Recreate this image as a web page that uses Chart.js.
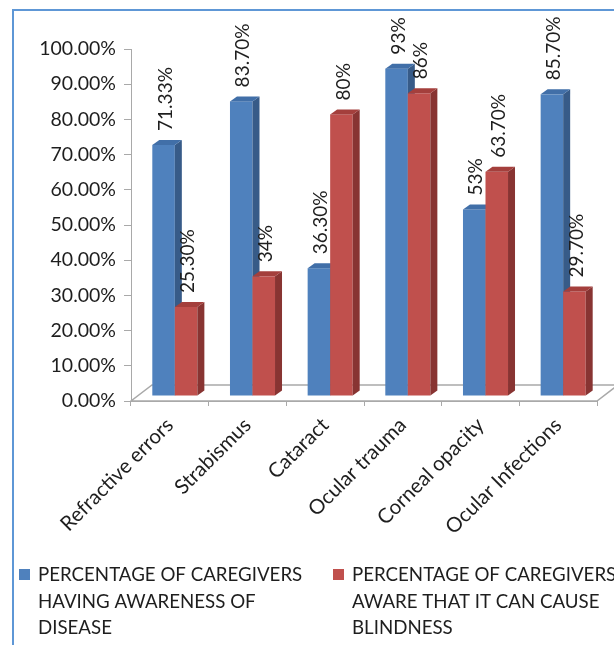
<!DOCTYPE html>
<html><head><meta charset="utf-8">
<script src="https://cdn.jsdelivr.net/npm/chart.js@4.4.1/dist/chart.umd.min.js"></script>
<style>
html,body{margin:0;padding:0;background:#fff;overflow:hidden}
#wrap{position:relative;width:614px;height:645px}
#frame{position:absolute;left:12px;top:9px;width:700px;height:700px;border:2px solid #5e97d6;box-sizing:border-box}
canvas{position:absolute;left:0;top:0}
</style></head>
<body><div id="wrap"><div id="frame"></div><canvas id="c" width="614" height="645"></canvas></div>
<script>
const categories = ['Refractive errors','Strabismus','Cataract','Ocular trauma','Corneal opacity','Ocular Infections'];
const awareness = [71.33, 83.7, 36.3, 93, 53, 85.7];
const blindness = [25.3, 34, 80, 86, 63.7, 29.7];
const awarenessLabels = ['71.33%','83.70%','36.30%','93%','53%','85.70%'];
const blindnessLabels = ['25.30%','34%','80%','86%','63.70%','29.70%'];
const awarenessName = ['PERCENTAGE OF CAREGIVERS','HAVING AWARENESS OF','DISEASE'];
const blindnessName = ['PERCENTAGE OF CAREGIVERS','AWARE THAT IT CAN CAUSE','BLINDNESS'];

const FONT = 'Lato';
const TXT = '#1e1e1e';

const bar3d = {
  id: 'bar3d',
  beforeDatasetsDraw(chart, args, o) {
    const ctx = chart.ctx, ca = chart.chartArea;
    ctx.save();
    // floor
    ctx.beginPath();
    ctx.moveTo(ca.left, ca.bottom);
    ctx.lineTo(ca.right, ca.bottom);
    ctx.lineTo(ca.right + o.floorDx, ca.bottom - o.floorDy);
    ctx.lineTo(ca.left + o.floorDx, ca.bottom - o.floorDy);
    ctx.closePath();
    ctx.fillStyle = '#ffffff';
    ctx.fill();
    ctx.strokeStyle = '#a9a9a9';
    ctx.lineWidth = 1.5;
    ctx.stroke();
    const ds = chart.data.datasets;
    const n = chart.data.labels.length;
    const boxes = [];
    for (let j = 0; j < n; j++) {
      for (let i = 0; i < ds.length; i++) {
        const el = chart.getDatasetMeta(i).data[j];
        const p = el.getProps(['x','y','base','width'], true);
        const l = p.x - p.width / 2 + o.shiftX, r = l + p.width;
        const t = p.y - o.shiftY, b = p.base - o.shiftY;
        const dx = o.depthX, dy = o.depthY;
        ctx.fillStyle = ds[i].backgroundColor;
        ctx.fillRect(l, t, r - l, b - t);
        ctx.fillStyle = ds[i].sideColor;
        ctx.beginPath();
        ctx.moveTo(r, t); ctx.lineTo(r + dx, t - dy); ctx.lineTo(r + dx, b - dy); ctx.lineTo(r, b);
        ctx.closePath(); ctx.fill();
        ctx.fillStyle = ds[i].topColor;
        ctx.beginPath();
        ctx.moveTo(l, t); ctx.lineTo(l + dx, t - dy); ctx.lineTo(r + dx, t - dy); ctx.lineTo(r, t);
        ctx.closePath(); ctx.fill();
        boxes.push({x: (l + r) / 2, t, text: ds[i].valueLabels[j]});
      }
    }
    ctx.fillStyle = TXT;
    ctx.font = o.labelFont;
    ctx.textAlign = 'left';
    ctx.textBaseline = 'middle';
    for (const bx of boxes) {
      ctx.save();
      ctx.translate(bx.x + o.labelDx, bx.t - o.labelGap);
      ctx.rotate(-Math.PI / 2);
      ctx.fillText(bx.text, 0, 0);
      ctx.restore();
    }
    ctx.restore();
    return false;
  }
};

const legend2 = {
  id: 'legend2',
  afterDraw(chart, args, o) {
    const ctx = chart.ctx;
    ctx.save();
    ctx.font = o.font;
    ctx.textAlign = 'left';
    ctx.textBaseline = 'middle';
    chart.data.datasets.forEach((d, i) => {
      ctx.fillStyle = d.backgroundColor;
      ctx.fillRect(o.x[i], o.boxY, o.box, o.box);
      ctx.fillStyle = TXT;
      d.nameLines.forEach((line, k) => ctx.fillText(line, o.x[i] + o.textDx, o.y0 + k * o.lh));
    });
    ctx.restore();
  }
};

new Chart(document.getElementById('c'), {
  type: 'bar',
  data: {
    labels: categories,
    datasets: [
      {label: awarenessName.join(' '), nameLines: awarenessName, data: awareness, valueLabels: awarenessLabels,
       backgroundColor: '#4f81bd', sideColor: '#375b88', topColor: '#416fa8'},
      {label: blindnessName.join(' '), nameLines: blindnessName, data: blindness, valueLabels: blindnessLabels,
       backgroundColor: '#c0504d', sideColor: '#883432', topColor: '#a43f3c'}
    ]
  },
  options: {
    responsive: false,
    animation: false,
    events: [],
    layout: {padding: {top: 49, right: 17, left: 0, bottom: 0}},
    datasets: {bar: {categoryPercentage: 0.58, barPercentage: 1}},
    plugins: {
      legend: {display: false},
      tooltip: {enabled: false},
      bar3d: {floorDx: 21, floorDy: 16, depthX: 7, depthY: 5, shiftX: 5, shiftY: 5,
              labelDx: 2, labelGap: 14, labelFont: '19px ' + FONT},
      legend2: {x: [19, 333], box: 11, boxY: 569, textDx: 19, y0: 575, lh: 26.5, font: '18.7px ' + FONT}
    },
    scales: {
      x: {
        afterFit(s) { s.height = 244; },
        grid: {display: true, drawOnChartArea: false, drawTicks: true, tickLength: 5, color: '#a9a9a9'},
        border: {display: true, color: '#a9a9a9'},
        ticks: {autoSkip: false, minRotation: 45, maxRotation: 45, color: TXT, font: {family: FONT, size: 20.5}, padding: 7}
      },
      y: {
        min: 0, max: 100,
        afterFit(s) { s.width = 131; },
        grid: {display: true, drawOnChartArea: false, drawTicks: true, tickLength: 7, color: '#a9a9a9'},
        border: {display: true, color: '#a9a9a9'},
        ticks: {stepSize: 10, color: TXT, font: {family: FONT, size: 19.5}, padding: 8,
                callback: v => v.toFixed(2) + '%'}
      }
    }
  },
  plugins: [bar3d, legend2]
});
</script>
</body></html>
